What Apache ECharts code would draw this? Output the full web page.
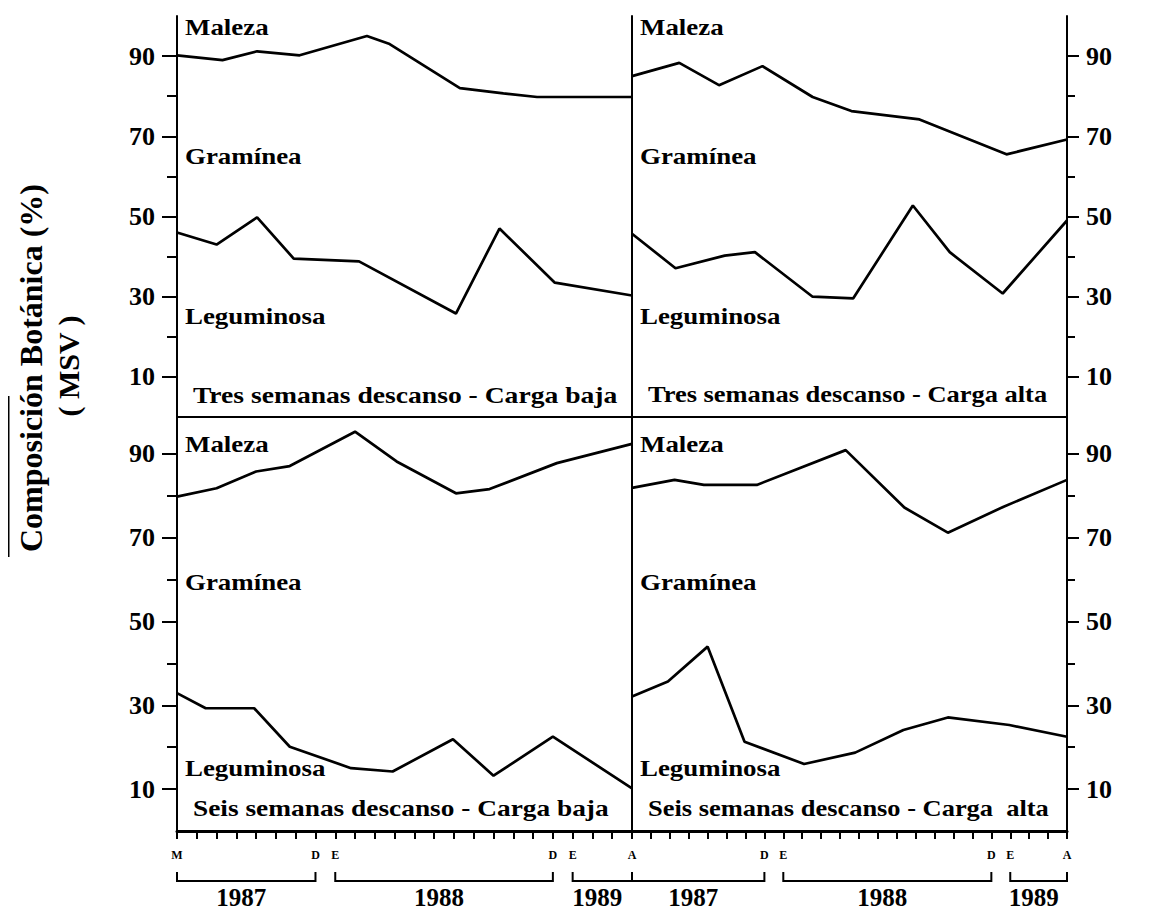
<!DOCTYPE html>
<html><head><meta charset="utf-8">
<script src="https://cdn.jsdelivr.net/npm/echarts@6/dist/echarts.min.js"></script>
<style>html,body{margin:0;padding:0;background:#fff}#c{width:1151px;height:911px}</style>
</head><body><div id="c"></div>
<script>
// x = month index: 0 = May 1987 ... 23 = April 1989
const monthLabelsLeft  = ['M','','','','','','','D','E','','','','','','','','','','','D','E','','','A'];
const monthLabelsRight = ['','','','','','','','D','E','','','','','','','','','','','D','E','','','A'];
const yearLabels = ['1987','1988','1989'];
const yearSpans = [[0,7],[8,19],[20,23]];
const yTickLabels = [10,30,50,70,90];
const yMinorTicks = [20,40,60,80];
const zoneLabels = ['Maleza','Gramínea','Leguminosa'];
const panelTitles = ['Tres semanas descanso - Carga baja','Tres semanas descanso - Carga alta',
                     'Seis semanas descanso - Carga baja','Seis semanas descanso - Carga  alta'];
const yTitle = 'Composición Botánica (%)';
const yTitle2 = '( MSV )';

// boundary Maleza / Gramínea (upper) and Gramínea / Leguminosa (lower), [month, %]
const tlUpper = [[0,90.2],[2.3,89],[4.05,91.2],[6.2,90.2],[9.6,95],[10.75,93],[14.3,82],[16.5,80.7],[18.2,79.8],[23,79.8]];
const tlLower = [[0,46],[2,43],[4.05,49.8],[5.9,39.5],[9.2,38.8],[14.1,25.8],[16.3,47],[19.1,33.5],[23,30.3]];
const trUpper = [[0,85],[2.5,88.3],[4.6,82.75],[6.9,87.5],[9.55,79.8],[11.6,76.3],[15.2,74.2],[19.8,65.5],[23,69.2]];
const trLower = [[0,45.7],[2.3,37.1],[4.9,40.25],[6.5,41.1],[9.55,30],[11.7,29.6],[14.85,52.75],[16.8,41.1],[19.6,30.8],[23,49]];
const blUpper = [[0,79.8],[2,81.8],[4,85.8],[5.7,87.1],[9,95.3],[11.1,88.2],[14.1,80.6],[15.8,81.6],[19.2,87.8],[23,92.4]];
const blLower = [[0,32.9],[1.45,29.3],[3.9,29.3],[5.7,20.1],[8.8,15],[10.9,14.2],[13.95,21.9],[16,13.2],[19,22.5],[23,10.2]];
const brUpper = [[0,81.9],[2.25,83.8],[3.8,82.6],[6.6,82.6],[11.3,90.9],[14.4,77.2],[16.7,71.2],[19.65,77.4],[23,83.8]];
const brLower = [[0,32.1],[1.9,35.7],[4,44],[5.95,21.3],[9.1,16],[11.8,18.7],[14.35,24.1],[16.7,27.1],[19.95,25.3],[23,22.5]];

const FONT = '"Liberation Serif", "Times New Roman", serif';
const chart = echarts.init(document.getElementById('c'), null, {renderer: 'svg'});

const grids = [
  {left:177, top:16, width:455, height:401},
  {left:632, top:16, width:435, height:401},
  {left:177, top:412, width:455, height:419},
  {left:632, top:412, width:435, height:419}
];
const sides = ['left','right','left','right'];
const isBottom = [false,false,true,true];
const uppers = [tlUpper,trUpper,blUpper,brUpper];
const lowers = [tlLower,trLower,blLower,brLower];
const monthSets = [monthLabelsLeft,monthLabelsRight,monthLabelsLeft,monthLabelsRight];

const xAxes = [], yAxes = [], series = [];
for (let i = 0; i < 4; i++) {
  xAxes.push({
    gridIndex:i, type:'value', min:0, max:23, interval:1,
    axisLine:{show:true, onZero:false, lineStyle:{color:'#000', width:isBottom[i]?3:2}},
    axisTick:{show:isBottom[i], length:8, lineStyle:{color:'#000', width:2}},
    axisLabel:{show:isBottom[i], margin:18, color:'#000', fontFamily:FONT, fontWeight:'bold', fontSize:12,
      formatter:(v)=>monthSets[i][Math.round(v)] || ''},
    splitLine:{show:false}
  });
  const left = sides[i] === 'left';
  const mainIdx = yAxes.length;
  yAxes.push({
    gridIndex:i, type:'value', min:0, max:100, position:sides[i],
    axisLine:{show:true, onZero:false, lineStyle:{color:'#000', width:2}},
    axisTick:{show:true, customValues:yTickLabels, length:left?15:12, lineStyle:{color:'#000', width:2}},
    axisLabel:{show:true, customValues:yTickLabels, margin:left?22:19, color:'#000',
      fontFamily:FONT, fontWeight:'bold', fontSize:26},
    splitLine:{show:false}
  });
  yAxes.push({
    gridIndex:i, type:'value', min:0, max:100, position:sides[i],
    axisLine:{show:false, onZero:false},
    axisTick:{show:true, customValues:yMinorTicks, length:left?10:8, lineStyle:{color:'#000', width:2}},
    axisLabel:{show:false}, splitLine:{show:false}
  });
  if (left) {
    yAxes.push({
      gridIndex:i, type:'value', min:0, max:100, position:'right',
      axisLine:{show:true, onZero:false, lineStyle:{color:'#000', width:2}},
      axisTick:{show:false}, axisLabel:{show:false}, splitLine:{show:false}
    });
  }
  [uppers[i], lowers[i]].forEach((d, k) => {
    series.push({
      type:'line', name:(k===0?'Maleza/Gramínea ':'Gramínea/Leguminosa ')+i,
      xAxisIndex:i, yAxisIndex:mainIdx, data:d, symbol:'none',
      lineStyle:{color:'#000', width:2.7}, silent:true, animation:false
    });
  });
}

chart.setOption({
  animation:false,
  backgroundColor:'#fff',
  grid:grids, xAxis:xAxes, yAxis:yAxes, series:series
});

// annotation graphics placed through the axes
const g = [];
const txt = (x, y, text, size, opts) => Object.assign({
  type:'text', x:x, y:y, silent:true,
  style:Object.assign({text:text, fill:'#000', fontFamily:FONT, fontWeight:'bold', fontSize:size,
    textAlign:'left', verticalAlign:'middle', textVerticalAlign:'middle'}, (opts && opts.style) || {})
}, opts ? {scaleX:opts.scaleX || 1, rotation:opts.rotation || 0} : {});

const zoneY = [[97.3, 65, 25.2, 5.5],[97.3, 65, 25.2, 5.8],[92.4, 59.5, 15.1, 5.5],[92.4, 59.5, 15.1, 5.5]];
const titleScale = [1.2, 1.15, 1.19, 1.15];
for (let i = 0; i < 4; i++) {
  const gl = grids[i].left;
  zoneLabels.forEach((lab, k) => {
    const p = chart.convertToPixel({gridIndex:i}, [0, zoneY[i][k]]);
    g.push(txt(gl + 8, p[1], lab, 23, {scaleX:1.17}));
  });
  const pt = chart.convertToPixel({gridIndex:i}, [0, zoneY[i][3]]);
  g.push(txt(gl + 16, pt[1], panelTitles[i], 23, {scaleX:titleScale[i]}));
  if (isBottom[i]) {
    yearSpans.forEach((s, k) => {
      const a = chart.convertToPixel({gridIndex:i}, [s[0], 0])[0];
      const b = chart.convertToPixel({gridIndex:i}, [s[1], 0])[0];
      g.push({type:'polyline', silent:true, shape:{points:[[a,872],[a,881],[b,881],[b,872]]},
        style:{stroke:'#000', lineWidth:2, fill:null}});
      g.push(txt((a+b)/2 - 5, 897, yearLabels[k], 25, {style:{textAlign:'center'}}));
    });
  }
}
g.push(txt(31, 368, yTitle, 32, {rotation:Math.PI/2, style:{textAlign:'center'}}));
g.push(txt(68, 366, yTitle2, 30, {rotation:Math.PI/2, style:{textAlign:'center'}}));
g.push({type:'rect', silent:true, shape:{x:8, y:396, width:1.5, height:161}, style:{fill:'#000'}});

chart.setOption({graphic:{elements:g}});
</script>
</body></html>
